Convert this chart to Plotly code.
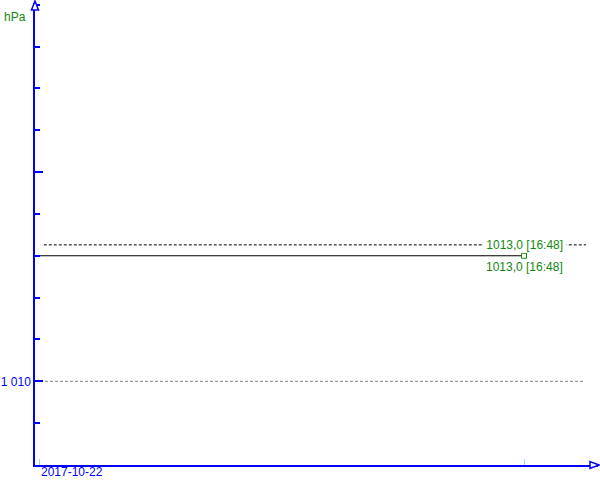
import plotly.graph_objects as go

# ---- data ----
times = ["2017-10-21 23:45", "2017-10-22 16:48"]
pressure = [1013.0, 1013.0]
last_time = "2017-10-22 16:48"
last_value = 1013.0
last_label = "1013,0 [16:48]"
ref_times = ["2017-10-22 00:10", "2017-10-22 18:57"]
ref_values = [1013.26, 1013.26]
grid_value = 1010
y_tickvals = [1010, 1015]
y_ticktext = ["1 010", ""]
x_tickvals = ["2017-10-22 00:00", "2017-10-22 16:48"]
date_label = "2017-10-22"
unit_label = "hPa"

BLUE = "#0000FF"
GREEN = "#118811"
FONT = "Liberation Sans, Arial, sans-serif"

fig = go.Figure()
fig.add_trace(go.Scatter(x=ref_times, y=ref_values, mode="lines",
                         line=dict(color="black", width=1, dash="3px,2px"),
                         hoverinfo="skip"))
fig.add_trace(go.Scatter(x=times, y=pressure, mode="lines",
                         line=dict(color="black", width=1), hoverinfo="skip"))

fig.add_shape(type="line", xref="paper", yref="y", x0=0, x1=0.977,
              y0=grid_value, y1=grid_value,
              line=dict(color="#808080", width=1, dash="3px,2px"), layer="below")

# arrowheads
fig.add_shape(type="path", xref="paper", yref="paper", xsizemode="pixel", ysizemode="pixel",
              xanchor=0, yanchor=1, path="M0,2 L-3.5,-7 L3.5,-7 Z",
              fillcolor="white", line=dict(color=BLUE, width=1.5))
fig.add_shape(type="path", xref="paper", yref="paper", xsizemode="pixel", ysizemode="pixel",
              xanchor=1, yanchor=0, path="M1,0 L-8,3.5 L-8,-3.5 Z",
              fillcolor="white", line=dict(color=BLUE, width=1.5))

fig.add_annotation(x=last_time, y=ref_values[0], text="\u00a0" + last_label + "\u00a0",
                   showarrow=False, xanchor="center", yanchor="middle", bgcolor="white",
                   font=dict(color=GREEN, size=12, family=FONT), borderpad=0)
fig.add_annotation(x=last_time, y=last_value, text=last_label, showarrow=False,
                   xanchor="center", yanchor="top", yshift=-3,
                   font=dict(color=GREEN, size=12, family=FONT), borderpad=0)
fig.add_annotation(xref="paper", yref="paper", x=-0.0586, y=0.9697, text=unit_label,
                   showarrow=False, xanchor="left", yanchor="middle",
                   font=dict(color=GREEN, size=12, family=FONT))
fig.add_annotation(x=x_tickvals[0], yref="paper", y=0, yshift=-7, xshift=0,
                   text=date_label, showarrow=False, xanchor="left", yanchor="middle",
                   font=dict(color=BLUE, size=12, family=FONT))

# marker last (drawn via a separate trace on top)
fig.add_trace(go.Scatter(x=[last_time], y=[last_value], mode="markers",
                         marker=dict(symbol="square", size=5, color="white",
                                     line=dict(color=GREEN, width=1)),
                         hoverinfo="skip"))

fig.update_layout(
    width=600, height=480,
    margin=dict(l=35, r=2, t=3, b=15),
    paper_bgcolor="white", plot_bgcolor="white",
    showlegend=False,
    font=dict(family=FONT, size=12, color=BLUE),
    xaxis=dict(type="date", range=["2017-10-21 23:51:41", "2017-10-22 19:21:47"],
               showgrid=False, zeroline=False, showline=True, linecolor=BLUE, linewidth=1.5,
               tickmode="array", tickvals=x_tickvals, ticks="inside", ticklen=6,
               tickcolor="#99D9EA", showticklabels=False),
    yaxis=dict(range=[1008, 1019.04], showgrid=False, zeroline=False,
               showline=True, linecolor=BLUE, linewidth=1.5,
               tickmode="array", tickvals=y_tickvals, ticktext=y_ticktext,
               ticks="inside", ticklen=8, tickcolor=BLUE, tickwidth=1.5,
               tickfont=dict(color=BLUE, size=12, family=FONT),
               minor=dict(dtick=1, ticks="inside", ticklen=5, tickcolor=BLUE,
                          tickwidth=1.5, showgrid=False)),
)
fig.write_html("out.html", config={"displayModeBar": False},
               post_script="document.body.style.margin='0';document.body.style.overflow='hidden';")
